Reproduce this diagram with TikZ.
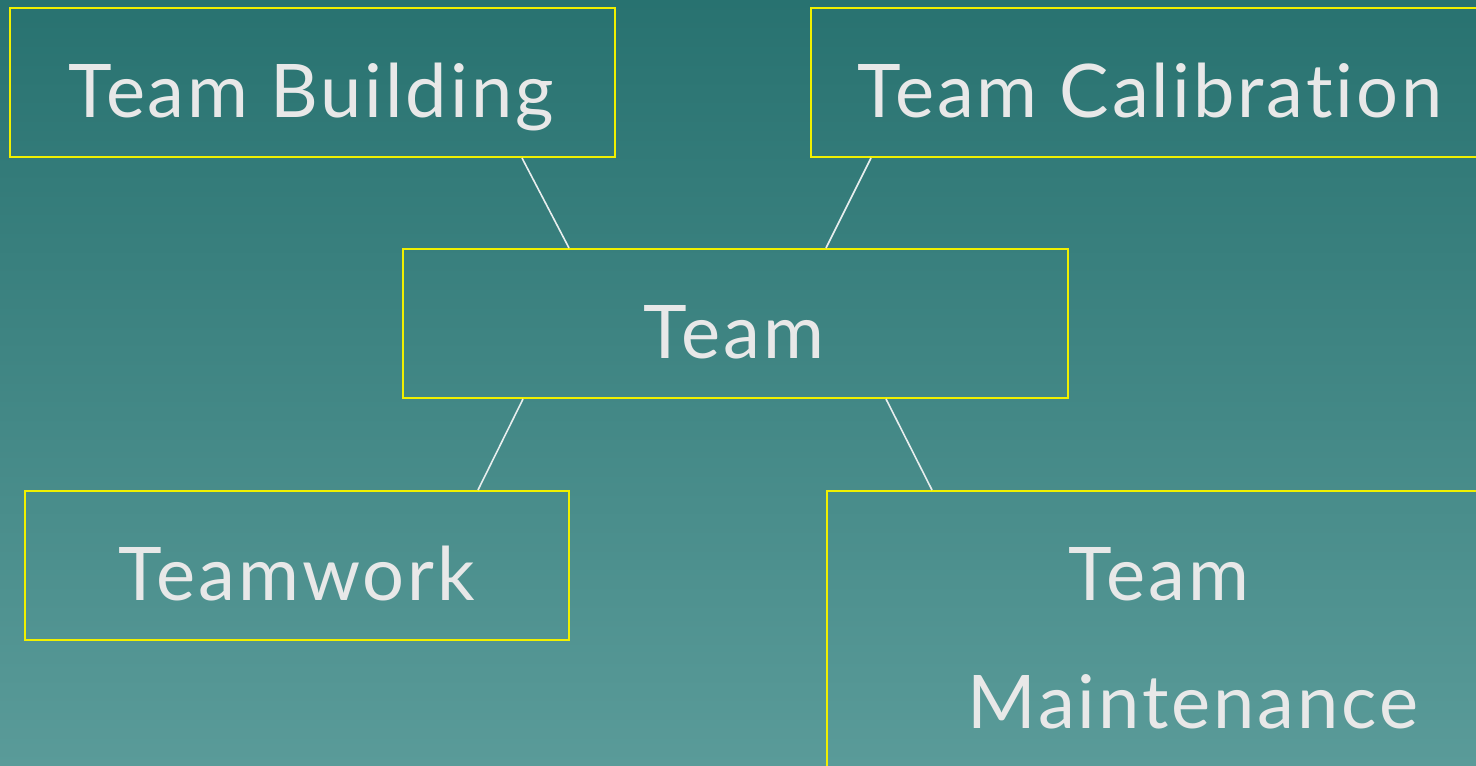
\documentclass[tikz,border=0pt]{standalone}
\usepackage{fontspec}
\newfontfamily\lblfont[LetterSpace=4,Ligatures={NoCommon}]{Lato}
\usetikzlibrary{calc}
\definecolor{bgtop}{HTML}{287270}
\definecolor{bgbot}{HTML}{5A9B99}
\definecolor{boxline}{HTML}{F0F000}
\definecolor{txt}{HTML}{E8E8E8}
\definecolor{linkc}{HTML}{E8EEEE}
\begin{document}
\begin{tikzpicture}[x=1pt,y=-1pt,
  box/.style={draw=boxline,line width=2pt,rectangle,anchor=north west,inner sep=0pt},
  lbl/.style={text=txt,font=\lblfont\fontsize{74}{86}\selectfont,inner sep=0pt,anchor=base},
  link/.style={draw=linkc,line width=1.6pt}]
\useasboundingbox (0,0) rectangle (1476,766);
\shade[top color=bgtop,bottom color=bgbot] (0,0) rectangle (1476,766);
% boxes
\node[box,minimum width=605pt,minimum height=149pt] (tb) at (9,7) {};
\node[box,minimum width=680pt,minimum height=149pt] (tc) at (810,7) {};
\node[box,minimum width=665pt,minimum height=149pt] (tm) at (402,248) {};
\node[box,minimum width=544pt,minimum height=149pt] (tw) at (24,490) {};
\node[box,minimum width=680pt,minimum height=300pt] (tmt) at (826,490) {};
% labels
\node[lbl] (tbl) at (311,117) {Team Building};
\node[lbl] (tcl) at (1150,117) {Team Calibration};
\node[lbl] (tml) at (734,358) {Team};
\node[lbl] (twl) at (297,600) {Teamwork};
\node[lbl] (tmt1) at (1159,600) {Team};
\node[lbl] (tmt2) at (1193,728) {Maintenance};
% connectors
\coordinate (a1) at ($(tb.south west)+(513,0)$);
\coordinate (a2) at ($(tm.north west)+(167,0)$);
\coordinate (b1) at ($(tc.south west)+(61,0)$);
\coordinate (b2) at ($(tm.north west)+(424,0)$);
\coordinate (c1) at ($(tm.south west)+(121,0)$);
\coordinate (c2) at ($(tw.north west)+(454,0)$);
\coordinate (d1) at ($(tm.south west)+(484,0)$);
\coordinate (d2) at ($(tmt.north west)+(106,0)$);
\draw[link] (a1) -- (a2);
\draw[link] (b1) -- (b2);
\draw[link] (c1) -- (c2);
\draw[link] (d1) -- (d2);
\end{tikzpicture}
\end{document}
